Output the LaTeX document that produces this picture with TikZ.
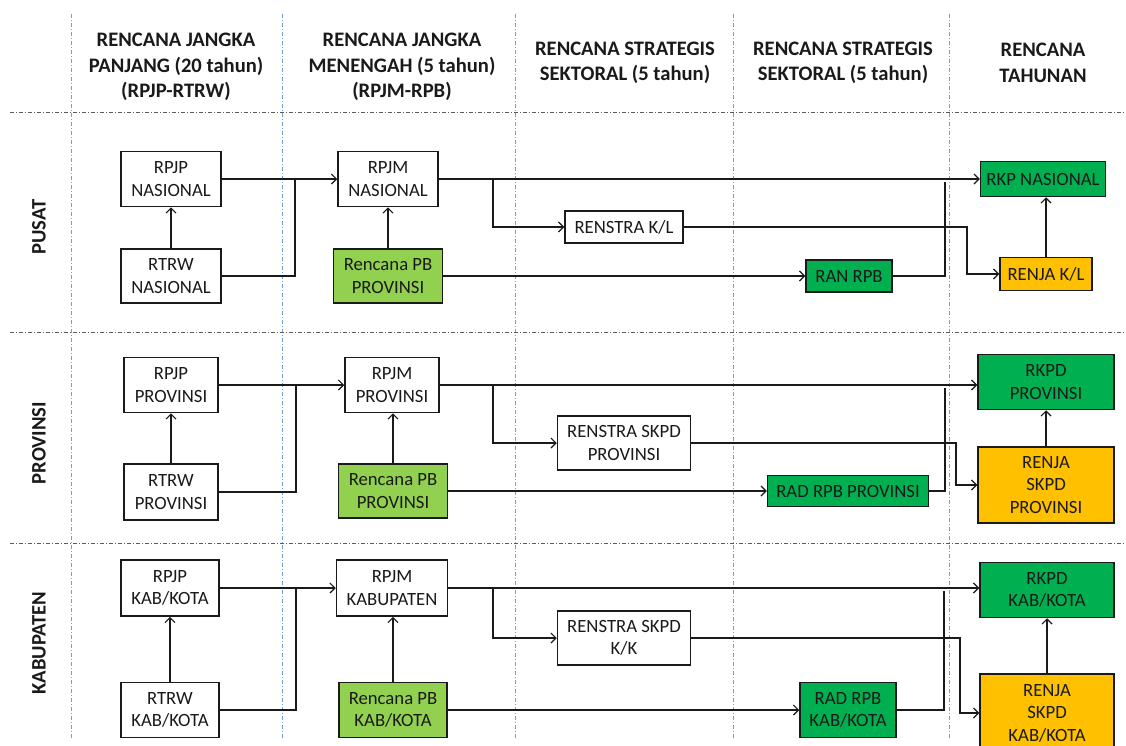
\documentclass[tikz,border=0pt]{standalone}
\usepackage{fontspec}
\setmainfont{Carlito}
\usetikzlibrary{arrows.meta}
\definecolor{lgreen}{HTML}{92D050}
\definecolor{dgreen}{HTML}{00B050}
\definecolor{amber}{HTML}{FFC000}
\definecolor{gridblue}{HTML}{6F9FD8}
\definecolor{gridgray}{HTML}{5A5A5A}
\definecolor{ink}{HTML}{1A1A1A}
\newcommand{\boxfont}{\fontsize{18.7}{22.5}\selectfont}
\newcommand{\hdrfont}{\fontsize{20.6}{25.5}\selectfont\bfseries}
\tikzset{
  blk/.style={draw=ink, line width=1.5pt, align=center, font=\boxfont, text=ink, inner sep=0pt},
  plain/.style={blk, fill=white},
  pb/.style={blk, fill=lgreen},
  gr/.style={blk, fill=dgreen},
  am/.style={blk, fill=amber},
  conn/.style={draw=ink, line width=1.1pt},
  arr/.style={conn, -{Straight Barb[length=5pt,width=10pt,line width=1.1pt]}},
  hdr/.style={align=center, font=\hdrfont, text=ink},
  rowlbl/.style={rotate=90, font=\hdrfont, text=ink},
  vgrid/.style={draw=gridblue, line width=0.9pt, dash pattern=on 4pt off 2pt on 1pt off 2pt},
  hgrid/.style={draw=gridgray, line width=1pt, dash pattern=on 4pt off 2pt on 1pt off 2pt},
}
\begin{document}
\begin{tikzpicture}[x=1pt,y=-1pt]
\useasboundingbox (0,0) rectangle (1126,745);
\fill[white] (0,0) rectangle (1126,745);

% column and row separators
\foreach \gx in {71,282,515,733,949} \draw[vgrid] (\gx,14) -- (\gx,738);
\foreach \gy in {112,332,543} \draw[hgrid] (10,\gy) -- (1126,\gy);

% column headers
\node[hdr] (h1) at (176,67) {RENCANA JANGKA\\PANJANG (20 tahun)\\(RPJP-RTRW)};
\node[hdr] (h2) at (402,67) {RENCANA JANGKA\\MENENGAH (5 tahun)\\(RPJM-RPB)};
\node[hdr] (h3) at (625,63) {RENCANA STRATEGIS\\SEKTORAL (5 tahun)};
\node[hdr] (h4) at (843,63) {RENCANA STRATEGIS\\SEKTORAL (5 tahun)};
\node[hdr] (h5) at (1043,63) {RENCANA\\TAHUNAN};

% row labels
\node[rowlbl] (r1) at (39,227) {PUSAT};
\node[rowlbl] (r2) at (39,443) {PROVINSI};
\node[rowlbl] (r3) at (39,643) {KABUPATEN};

% ---------- PUSAT ----------
\node[plain, minimum width=100pt, minimum height=55pt] (rpjpN) at (171,179) {RPJP\\NASIONAL};
\node[plain, minimum width=100pt, minimum height=54pt] (rtrwN) at (171,276) {RTRW\\NASIONAL};
\node[plain, minimum width=100pt, minimum height=55pt] (rpjmN) at (388,179) {RPJM\\NASIONAL};
\node[pb, minimum width=109pt, minimum height=54pt] (pbN) at (388,276) {Rencana PB\\PROVINSI};
\node[plain, minimum width=118pt, minimum height=32pt] (renstraN) at (624,227) {RENSTRA K/L};
\node[gr, minimum width=86pt, minimum height=32pt] (ranN) at (849,276) {RAN RPB};
\node[gr, minimum width=125pt, minimum height=35pt] (rkpN) at (1043,179) {RKP NASIONAL};
\node[am, minimum width=92pt, minimum height=33pt] (renjaN) at (1046,274) {RENJA K/L};
\coordinate (j1) at (295,179);
\coordinate (b1) at (493,179);
\coordinate (k1) at (967,227);
\coordinate (m1) at (945,182);

\draw[arr] (rtrwN.north) -- (rpjpN.south);
\draw[arr] (rpjpN.east) -- (rpjmN.west);
\draw[conn] (rtrwN.east) -| (j1);
\draw[arr] (pbN.north) -- (pbN.north |- rpjmN.south);
\draw[arr] (rpjmN.east) -- (rkpN.west);
\draw[arr] (b1) |- (renstraN.west);
\draw[arr] (renstraN.east) -- (k1) |- (renjaN.west);
\draw[arr] (pbN.east) -- (ranN.west);
\draw[conn] (ranN.east) -| (m1);
\draw[arr] (renjaN.north) -- (renjaN.north |- rkpN.south);

% ---------- PROVINSI ----------
\node[plain, minimum width=94pt, minimum height=55pt] (rpjpP) at (171,385) {RPJP\\PROVINSI};
\node[plain, minimum width=94pt, minimum height=56pt] (rtrwP) at (171,492) {RTRW\\PROVINSI};
\node[plain, minimum width=94pt, minimum height=55pt] (rpjmP) at (392,385) {RPJM\\PROVINSI};
\node[pb, minimum width=109pt, minimum height=54pt] (pbP) at (393,491) {Rencana PB\\PROVINSI};
\node[plain, minimum width=133pt, minimum height=54pt] (renstraP) at (624,443) {RENSTRA SKPD\\PROVINSI};
\node[gr, minimum width=161pt, minimum height=31pt] (radP) at (848,491) {RAD RPB PROVINSI};
\node[gr, minimum width=136pt, minimum height=55pt] (rkpdP) at (1046,382) {RKPD\\PROVINSI};
\node[am, minimum width=136pt, minimum height=76pt] (renjaP) at (1046,485) {RENJA\\SKPD\\PROVINSI};
\coordinate (j2) at (296,385);
\coordinate (b2) at (493,385);
\coordinate (k2) at (956,443);
\coordinate (m2) at (945,388);

\draw[arr] (rtrwP.north) -- (rpjpP.south);
\draw[arr] (rpjpP.east) -- (rpjmP.west);
\draw[conn] (rtrwP.east) -| (j2);
\draw[arr] (pbP.north) -- (pbP.north |- rpjmP.south);
\draw[arr] (rpjmP.east) -- (rpjmP.east -| rkpdP.west);
\draw[arr] (b2) |- (renstraP.west);
\draw[arr] (renstraP.east) -- (k2) |- (renjaP.west);
\draw[arr] (pbP.east) -- (radP.west);
\draw[conn] (radP.east) -| (m2);
\draw[arr] (renjaP.north) -- (rkpdP.south);

% ---------- KABUPATEN ----------
\node[plain, minimum width=98pt, minimum height=56pt] (rpjpK) at (170,588) {RPJP\\KAB/KOTA};
\node[plain, minimum width=98pt, minimum height=55pt] (rtrwK) at (170,710) {RTRW\\KAB/KOTA};
\node[plain, minimum width=111pt, minimum height=56pt] (rpjmK) at (392,588) {RPJM\\KABUPATEN};
\node[pb, minimum width=108pt, minimum height=55pt] (pbK) at (393,710) {Rencana PB\\KAB/KOTA};
\node[plain, minimum width=133pt, minimum height=54pt] (renstraK) at (624,638) {RENSTRA SKPD\\K/K};
\node[gr, minimum width=96pt, minimum height=55pt] (radK) at (848,710) {RAD RPB\\KAB/KOTA};
\node[gr, minimum width=134pt, minimum height=55pt] (rkpdK) at (1047,590) {RKPD\\KAB/KOTA};
\node[am, minimum width=134pt, minimum height=78pt] (renjaK) at (1047,713) {RENJA\\SKPD\\KAB/KOTA};
\coordinate (j3) at (296,588);
\coordinate (b3) at (493,588);
\coordinate (k3) at (960,638);
\coordinate (m3) at (944,591);

\draw[arr] (rtrwK.north) -- (rpjpK.south);
\draw[arr] (rpjpK.east) -- (rpjmK.west);
\draw[conn] (rtrwK.east) -| (j3);
\draw[arr] (pbK.north) -- (pbK.north |- rpjmK.south);
\draw[arr] (rpjmK.east) -- (rpjmK.east -| rkpdK.west);
\draw[arr] (b3) |- (renstraK.west);
\draw[arr] (renstraK.east) -- (k3) |- (renjaK.west);
\draw[arr] (pbK.east) -- (radK.west);
\draw[conn] (radK.east) -| (m3);
\draw[arr] (renjaK.north) -- (rkpdK.south);
\end{tikzpicture}
\end{document}
